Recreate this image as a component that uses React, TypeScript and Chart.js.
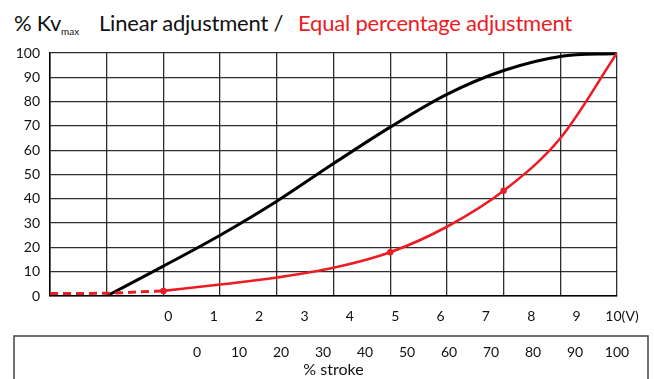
import React, { useEffect, useRef } from 'react';
import { Chart, registerables } from 'chart.js';

Chart.register(...registerables);

const RED = '#ec1c24';
const FONT = 'Lato, "Liberation Sans", sans-serif';

// Tick labels
const kvTicks = [0, 10, 20, 30, 40, 50, 60, 70, 80, 90, 100];
const gridVoltTicks = [-2.5, -1.25, 0, 1.25, 2.5, 3.75, 5, 6.25, 7.5, 8.75, 10];
const voltTicks = [0, 1, 2, 3, 4, 5, 6, 7, 8, 9, 10];
const voltLabels = ['0', '1', '2', '3', '4', '5', '6', '7', '8', '9', '10(V)'];
const strokeTicks = [0, 10, 20, 30, 40, 50, 60, 70, 80, 90, 100];

// Linear adjustment (black)
const linearV = [-1.25, 0, 1.25, 2.5, 3.75, 5, 6.25, 7.5, 8.75, 10];
const linearKv = [0, 12.3, 25, 39, 54.5, 69.5, 83, 92.8, 98.6, 99.8];

// Equal percentage adjustment (red), dashed part below 0 V
const eqDashV = [-2.5, -1.25, 0];
const eqDashKv = [1, 1.1, 2.1];

// Equal percentage adjustment (red), solid part
const eqV = [0, 1.25, 2.5, 3.75, 5, 6.25, 7.5, 8.75, 10];
const eqKv = [2.1, 4.7, 7.6, 11.6, 18, 28.5, 43.3, 64.9, 100];
const eqMarkedV = [0, 5, 7.5];

const pts = (xs: number[], ys: number[]) => xs.map((x, i) => ({ x, y: ys[i] }));

const strokeBox = {
  id: 'strokeBox',
  afterDraw(chart: any) {
    const s = chart.scales.xs;
    const ctx = chart.ctx;
    ctx.save();
    ctx.strokeStyle = '#444';
    ctx.lineWidth = 1.5;
    ctx.beginPath();
    ctx.moveTo(14, chart.height + 2);
    ctx.lineTo(14, s.top);
    ctx.lineTo(648, s.top);
    ctx.lineTo(648, chart.height + 2);
    ctx.stroke();
    ctx.restore();
  },
};

export default function App() {
  const ref = useRef<HTMLCanvasElement>(null);

  useEffect(() => {
    document.body.style.margin = '0';
    const gridColor = 'rgba(0,0,0,0.82)';
    const tickFont = { family: FONT, size: 14 };
    const chart = new Chart(ref.current!, {
      type: 'line',
      data: {
        datasets: [
          {
            label: 'Equal percentage (points)',
            type: 'scatter',
            data: pts(eqMarkedV, eqMarkedV.map((v) => eqKv[eqV.indexOf(v)])),
            pointRadius: 3.2,
            pointBackgroundColor: RED,
            pointBorderWidth: 0,
            showLine: false,
            order: 0,
          } as any,
          {
            label: 'Equal percentage adjustment',
            data: pts(eqV, eqKv),
            borderColor: RED,
            borderWidth: 2.6,
            pointRadius: 0,
            cubicInterpolationMode: 'monotone',
            order: 1,
          },
          {
            label: 'Equal percentage (below 0 V)',
            data: pts(eqDashV, eqDashKv),
            borderColor: RED,
            borderWidth: 3,
            borderDash: [8, 5],
            pointRadius: 0,
            tension: 0,
            order: 2,
          },
          {
            label: 'Linear adjustment',
            data: pts(linearV, linearKv),
            borderColor: '#000',
            borderWidth: 3,
            pointRadius: 0,
            cubicInterpolationMode: 'monotone',
            order: 3,
          },
        ],
      },
      options: {
        animation: false,
        responsive: true,
        maintainAspectRatio: false,
        layout: { padding: { left: 0, right: 37, top: 53, bottom: 0 } },
        plugins: { legend: { display: false }, tooltip: { enabled: false } },
        scales: {
          y: {
            type: 'linear',
            min: 0,
            max: 100,
            afterBuildTicks: (s: any) => {
              s.ticks = kvTicks.map((value) => ({ value }));
            },
            afterFit: (s: any) => {
              s.width = 50;
            },
            ticks: { font: tickFont, color: '#111', padding: 10 },
            grid: { color: gridColor, lineWidth: 1.3, drawTicks: false },
            border: { color: '#000', width: 1.5 },
          },
          x: {
            type: 'linear',
            position: 'bottom',
            weight: 0,
            min: -2.5,
            max: 10,
            afterBuildTicks: (s: any) => {
              s.ticks = gridVoltTicks.map((value) => ({ value }));
            },
            afterFit: (s: any) => {
              s.height = 0;
            },
            ticks: { display: false },
            grid: { color: gridColor, lineWidth: 1.3, drawTicks: false },
            border: { color: '#000', width: 1.5 },
          },
          xv: {
            type: 'linear',
            position: 'bottom',
            weight: 1,
            min: -2.5,
            max: 10,
            afterBuildTicks: (s: any) => {
              s.ticks = voltTicks.map((value) => ({ value }));
            },
            afterFit: (s: any) => {
              s.height = 40;
            },
            ticks: {
              font: tickFont,
              color: '#111',
              padding: 12,
              labelOffset: 5,
              autoSkip: false,
              maxRotation: 0,
              callback: (_v: any, i: number) => voltLabels[i],
            },
            grid: { display: false, drawTicks: false },
            border: { display: false },
          },
          xs: {
            type: 'linear',
            position: 'bottom',
            weight: 2,
            min: -35,
            max: 100,
            afterBuildTicks: (s: any) => {
              s.ticks = strokeTicks.map((value) => ({ value }));
            },
            afterFit: (s: any) => {
              s.height = 43;
            },
            ticks: {
              font: tickFont,
              color: '#111',
              padding: 8,
              autoSkip: false,
              maxRotation: 0,
              callback: (v: any) => String(v),
            },
            title: {
              display: true,
              text: '% stroke',
              font: { family: FONT, size: 16 },
              color: '#111',
              padding: { top: 0, bottom: 0 },
            },
            grid: { display: false, drawTicks: false },
            border: { display: false },
          },
        },
      },
      plugins: [strokeBox],
    });
    return () => chart.destroy();
  }, []);

  const titleBase: React.CSSProperties = {
    position: 'absolute',
    fontFamily: FONT,
    whiteSpace: 'nowrap',
    lineHeight: '22px',
    letterSpacing: '-0.2px',
  };

  return (
    <div style={{ position: 'relative', width: 654, height: 379, overflow: 'hidden', background: '#fff' }}>
      <span style={{ ...titleBase, left: 14, top: 12, fontSize: 22, color: '#111' }}>% Kv</span>
      <span style={{ ...titleBase, left: 61, top: 26, fontSize: 10, lineHeight: '10px', letterSpacing: 0, color: '#111' }}>max</span>
      <span style={{ ...titleBase, left: 99, top: 12, fontSize: 22, color: '#111' }}>Linear adjustment /</span>
      <span style={{ ...titleBase, left: 298, top: 12, fontSize: 22, color: RED }}>Equal percentage adjustment</span>
      <canvas ref={ref} style={{ position: 'absolute', left: 0, top: 0, width: 654, height: 379 }} />
    </div>
  );
}
